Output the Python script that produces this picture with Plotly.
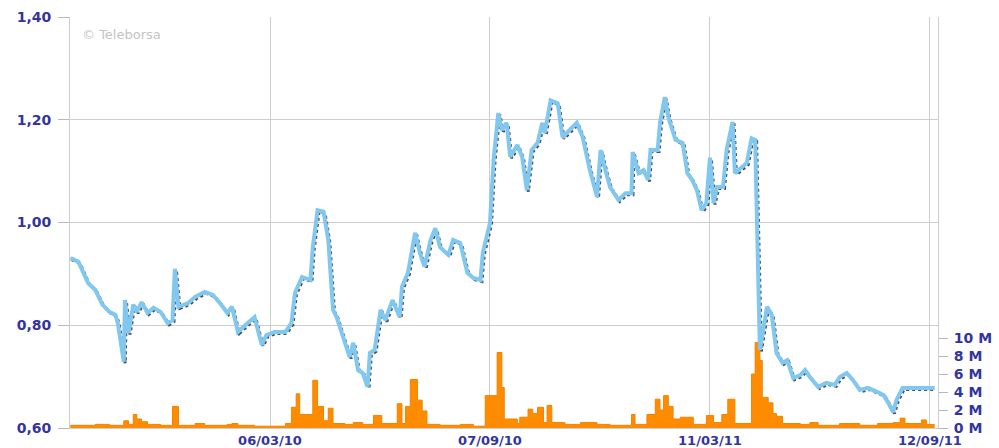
import plotly.graph_objects as go
import pandas as pd

# ---------------- data ----------------
price_dates = [
    "2009-09-19", "2009-09-21", "2009-09-26", "2009-09-30", "2009-10-04", "2009-10-10", "2009-10-16",
    "2009-10-22", "2009-10-27", "2009-10-29", "2009-11-03", "2009-11-04", "2009-11-07", "2009-11-11",
    "2009-11-14", "2009-11-18", "2009-11-23", "2009-11-28", "2009-12-04", "2009-12-10", "2009-12-14",
    "2009-12-16", "2009-12-19", "2009-12-27", "2010-01-02", "2010-01-10", "2010-01-17", "2010-01-23",
    "2010-01-29", "2010-02-02", "2010-02-07", "2010-02-15", "2010-02-21", "2010-02-27", "2010-03-03",
    "2010-03-10", "2010-03-19", "2010-03-24", "2010-03-27", "2010-04-02", "2010-04-09", "2010-04-11",
    "2010-04-15", "2010-04-20", "2010-04-24", "2010-04-28", "2010-05-01", "2010-05-08", "2010-05-12",
    "2010-05-15", "2010-05-19", "2010-05-23", "2010-05-27", "2010-05-29", "2010-06-02", "2010-06-07",
    "2010-06-11", "2010-06-17", "2010-06-23", "2010-06-25", "2010-06-30", "2010-07-06", "2010-07-10",
    "2010-07-14", "2010-07-19", "2010-07-23", "2010-07-27", "2010-08-03", "2010-08-07", "2010-08-13",
    "2010-08-19", "2010-08-24", "2010-08-30", "2010-09-01", "2010-09-07", "2010-09-10", "2010-09-14",
    "2010-09-17", "2010-09-21", "2010-09-24", "2010-09-30", "2010-10-04", "2010-10-08", "2010-10-12",
    "2010-10-17", "2010-10-21", "2010-10-23", "2010-10-28", "2010-11-03", "2010-11-07", "2010-11-13",
    "2010-11-19", "2010-11-24", "2010-11-30", "2010-12-06", "2010-12-09", "2010-12-13", "2010-12-17",
    "2010-12-24", "2010-12-30", "2011-01-04", "2011-01-05", "2011-01-10", "2011-01-14", "2011-01-18",
    "2011-01-20", "2011-01-26", "2011-01-28", "2011-02-01", "2011-02-04", "2011-02-10", "2011-02-16",
    "2011-02-20", "2011-02-24", "2011-02-28", "2011-03-04", "2011-03-08", "2011-03-11", "2011-03-14",
    "2011-03-17", "2011-03-22", "2011-03-25", "2011-03-30", "2011-04-01", "2011-04-07", "2011-04-11",
    "2011-04-15", "2011-04-18", "2011-04-22", "2011-04-28", "2011-05-02", "2011-05-06", "2011-05-11",
    "2011-05-15", "2011-05-20", "2011-05-26", "2011-05-30", "2011-06-03", "2011-06-10", "2011-06-17",
    "2011-06-24", "2011-06-28", "2011-07-04", "2011-07-09", "2011-07-15", "2011-07-22", "2011-07-30",
    "2011-08-04", "2011-08-08", "2011-08-12", "2011-08-15", "2011-08-20", "2011-09-01", "2011-09-16",
]
price_values = [
    0.930, 0.929, 0.923, 0.902, 0.882, 0.869, 0.840,
    0.826, 0.820, 0.804, 0.729, 0.849, 0.785, 0.840,
    0.826, 0.845, 0.824, 0.834, 0.826, 0.804, 0.810,
    0.910, 0.836, 0.843, 0.855, 0.865, 0.859, 0.843,
    0.824, 0.836, 0.787, 0.804, 0.816, 0.762, 0.781,
    0.787, 0.787, 0.804, 0.863, 0.894, 0.888, 0.952,
    1.024, 1.021, 0.966, 0.830, 0.816, 0.766, 0.738,
    0.766, 0.713, 0.707, 0.680, 0.746, 0.752, 0.830,
    0.810, 0.849, 0.816, 0.875, 0.902, 0.980, 0.941,
    0.914, 0.966, 0.989, 0.952, 0.937, 0.966, 0.960,
    0.902, 0.892, 0.888, 0.941, 0.999, 1.122, 1.213,
    1.180, 1.194, 1.128, 1.151, 1.128, 1.063, 1.141,
    1.155, 1.194, 1.174, 1.238, 1.232, 1.166, 1.180,
    1.194, 1.166, 1.102, 1.050, 1.141, 1.102, 1.069,
    1.044, 1.057, 1.057, 1.137, 1.096, 1.102, 1.083,
    1.141, 1.141, 1.194, 1.244, 1.205, 1.161, 1.155,
    1.096, 1.083, 1.063, 1.024, 1.038, 1.126, 1.038,
    1.069, 1.069, 1.141, 1.196, 1.096, 1.108, 1.116,
    1.164, 1.161, 0.752, 0.836, 0.820, 0.746, 0.727,
    0.732, 0.697, 0.703, 0.713, 0.699, 0.680, 0.688,
    0.684, 0.699, 0.707, 0.694, 0.674, 0.678, 0.670,
    0.664, 0.649, 0.631, 0.655, 0.678, 0.678, 0.678,
]

volume_dates = [
    "2009-09-19", "2009-10-10", "2009-10-22", "2009-11-03", "2009-11-07", "2009-11-11", "2009-11-14",
    "2009-11-18", "2009-11-23", "2009-12-04", "2009-12-14", "2009-12-19", "2010-01-02", "2010-01-10",
    "2010-01-29", "2010-02-02", "2010-02-07", "2010-02-21", "2010-03-19", "2010-03-24", "2010-03-28",
    "2010-03-31", "2010-04-11", "2010-04-15", "2010-04-20", "2010-04-24", "2010-04-28", "2010-05-08",
    "2010-05-15", "2010-05-23", "2010-06-01", "2010-06-08", "2010-06-21", "2010-06-25", "2010-06-28",
    "2010-07-02", "2010-07-08", "2010-07-12", "2010-07-16", "2010-07-27", "2010-08-13", "2010-08-24",
    "2010-09-03", "2010-09-13", "2010-09-17", "2010-09-19", "2010-09-30", "2010-10-02", "2010-10-09",
    "2010-10-13", "2010-10-17", "2010-10-22", "2010-10-25", "2010-10-29", "2010-11-09", "2010-11-22",
    "2010-12-06", "2010-12-17", "2011-01-04", "2011-01-07", "2011-01-17", "2011-01-24", "2011-01-28",
    "2011-01-31", "2011-02-04", "2011-02-08", "2011-02-14", "2011-02-25", "2011-03-08", "2011-03-14",
    "2011-03-21", "2011-03-26", "2011-04-01", "2011-04-15", "2011-04-18", "2011-04-22", "2011-04-24",
    "2011-04-29", "2011-05-03", "2011-05-06", "2011-05-11", "2011-05-26", "2011-06-03", "2011-06-10",
    "2011-06-28", "2011-07-15", "2011-07-30", "2011-08-12", "2011-08-18", "2011-08-22", "2011-09-05",
    "2011-09-09", "2011-09-16",
]
volume_millions = [
    0.3, 0.4, 0.3, 0.8, 0.4, 1.5, 1.0,
    0.7, 0.4, 0.3, 2.4, 0.3, 0.5, 0.3,
    0.4, 0.5, 0.3, 0.2, 0.5, 2.3, 3.8,
    1.5, 5.3, 2.4, 0.8, 2.2, 0.5, 0.4,
    0.6, 0.4, 1.4, 0.5, 2.7, 0.5, 2.4,
    5.4, 3.1, 1.9, 0.4, 0.3, 0.4, 0.2,
    3.6, 8.4, 4.5, 1.0, 0.5, 1.2, 2.1,
    1.6, 2.3, 0.6, 2.5, 0.6, 0.4, 0.6,
    0.4, 0.3, 1.5, 0.4, 1.5, 3.2, 2.0,
    3.6, 2.4, 1.0, 1.2, 0.4, 1.4, 0.6,
    1.5, 3.2, 0.5, 6.0, 9.5, 7.5, 3.4,
    2.8, 1.6, 1.3, 0.5, 0.4, 0.6, 0.3,
    0.5, 0.3, 0.5, 0.6, 1.1, 0.5, 0.9,
    0.4, 0.4,
]

x_tick_dates = ["2010-03-06", "2010-09-07", "2011-03-11", "2011-09-12"]
x_tick_labels = ["06/03/10", "07/09/10", "11/03/11", "12/09/11"]
price_ticks = [0.60, 0.80, 1.00, 1.20, 1.40]
price_tick_labels = ["0,60", "0,80", "1,00", "1,20", "1,40"]
vol_ticks = [0, 2, 4, 6, 8, 10]
vol_tick_labels = ["0 M", "2 M", "4 M", "6 M", "8 M", "10 M"]

# ---------------- styling ----------------
LABEL_COLOR = "#34349e"
GRID = "#cdcdcd"
FONT = "DejaVu Sans"

x0 = pd.Timestamp("2009-09-18 19:00")
x1 = pd.Timestamp("2011-09-18 19:00")
shift = pd.Timedelta(hours=30)  # ~1.5 px shadow offset
fmt = "%Y-%m-%d %H:%M"

fig = go.Figure()

# shadow of the price line, on the base axes (shifted range => offset down-right)
fig.add_trace(go.Scatter(
    x=price_dates, y=price_values, xaxis="x", yaxis="y", mode="lines",
    line=dict(color="rgba(20,20,20,0.75)", width=3, dash="dot"),
    hoverinfo="skip", showlegend=False,
))
# price line, on overlay axes with the true range
fig.add_trace(go.Scatter(
    x=price_dates, y=price_values, xaxis="x3", yaxis="y3", mode="lines",
    line=dict(color="#80c8f0", width=4), showlegend=False,
))
# volume
fig.add_trace(go.Scatter(
    x=volume_dates, y=volume_millions, xaxis="x3", yaxis="y2", mode="lines",
    line=dict(color="#f08400", width=1, shape="hv"), fill="tozeroy",
    fillcolor="#ff8c00", showlegend=False,
))

tickfont = dict(family=FONT, size=14, color=LABEL_COLOR, weight="bold")
xtickfont = dict(family=FONT, size=13, color=LABEL_COLOR, weight="bold")

fig.update_layout(
    width=999, height=448,
    margin=dict(l=70, r=61, t=17, b=20, autoexpand=False),
    paper_bgcolor="white", plot_bgcolor="white",
    showlegend=False,
    # base axes: hidden, slightly shifted -> carry the shadow
    xaxis=dict(
        type="date", visible=False, showgrid=False, automargin=False,
        range=[(x0 - shift).strftime(fmt), (x1 - shift).strftime(fmt)],
    ),
    yaxis=dict(visible=False, showgrid=False, range=[0.603, 1.403],
               zeroline=False, automargin=False),
    # visible axes
    xaxis3=dict(
        type="date", overlaying="x", anchor="y3", automargin=False,
        range=[x0.strftime(fmt), x1.strftime(fmt)],
        tickvals=x_tick_dates, ticktext=x_tick_labels, tickfont=xtickfont,
        showgrid=True, gridcolor=GRID, gridwidth=1,
        showline=True, linecolor=GRID, ticks="", zeroline=False,
        ticklabelstandoff=0, side="bottom",
    ),
    yaxis3=dict(
        overlaying="y", anchor="x3", side="left", automargin=False,
        range=[0.6, 1.4], tickvals=price_ticks, ticktext=price_tick_labels,
        tickfont=tickfont, showgrid=True, gridcolor=GRID, gridwidth=1,
        showline=True, linecolor=GRID, mirror=True, ticks="outside",
        ticklen=11, tickcolor="#b8b8b8", zeroline=False, ticklabelstandoff=4,
    ),
    yaxis2=dict(
        overlaying="y", anchor="x3", side="right", automargin=False,
        range=[0, 10.33 / 0.226],
        tickvals=vol_ticks, ticktext=vol_tick_labels, tickfont=tickfont,
        showgrid=False, showline=False, ticks="outside",
        ticklen=9, tickcolor="#b8b8b8", zeroline=False, ticklabelstandoff=3,
    ),
    annotations=[dict(
        text="© Teleborsa", xref="paper", yref="paper", x=0.012, y=0.958,
        xanchor="left", yanchor="middle", showarrow=False,
        font=dict(family=FONT, size=13, color="#c4c4c4"),
    )],
)

fig.write_html(
    "out.html",
    config={"displayModeBar": False},
    post_script="document.body.style.margin='0px';document.body.style.overflow='hidden';",
)
